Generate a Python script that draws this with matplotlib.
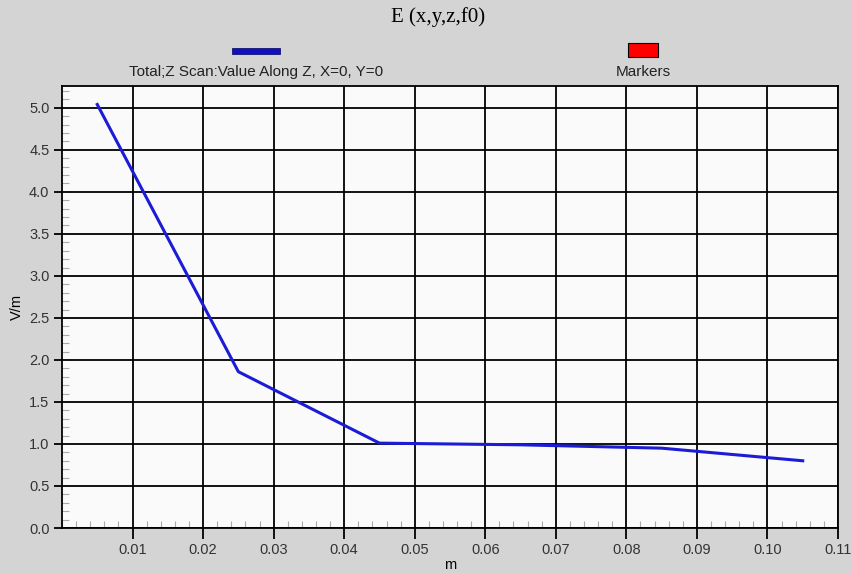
import matplotlib.pyplot as plt
import matplotlib.patches as mpatches
from matplotlib.ticker import MultipleLocator

plt.rcParams['font.family'] = ['Liberation Sans', 'DejaVu Sans']

# data
z = [0.005, 0.025, 0.045, 0.065, 0.085, 0.105]
e_total = [5.04, 1.86, 1.01, 0.99, 0.95, 0.80]
x_ticks = [0.01, 0.02, 0.03, 0.04, 0.05, 0.06, 0.07, 0.08, 0.09, 0.10, 0.11]
x_labels = ["0.01", "0.02", "0.03", "0.04", "0.05", "0.06", "0.07", "0.08", "0.09", "0.10", "0.11"]
y_ticks = [0.0, 0.5, 1.0, 1.5, 2.0, 2.5, 3.0, 3.5, 4.0, 4.5, 5.0]

fig = plt.figure(figsize=(8.53, 5.74), dpi=100, facecolor='#d4d4d4')
ax = fig.add_axes([62 / 853, 1 - 528 / 574, (838 - 62) / 853, (528 - 86) / 574])
ax.set_facecolor('#fafafa')

ax.plot(z, e_total, color='#1c1cd6', linewidth=2.2, zorder=3)

ax.set_xlim(0, 0.11)
ax.set_ylim(0, 5.26)
ax.set_xticks(x_ticks)
ax.set_xticklabels(x_labels)
ax.set_yticks(y_ticks)
ax.yaxis.set_major_formatter(plt.FormatStrFormatter('%.1f'))
ax.xaxis.set_minor_locator(MultipleLocator(0.002))
ax.yaxis.set_minor_locator(MultipleLocator(0.1))
ax.grid(True, which='major', color='black', linewidth=1.3)
ax.tick_params(which='major', direction='out', length=6, width=1.3,
               labelsize=10.5, labelcolor='#333333', pad=3)
ax.tick_params(axis='x', which='major', length=8, pad=3)
ax.tick_params(which='minor', direction='in', length=5, width=0.8, color='#aaaaaa')
for s in ax.spines.values():
    s.set_linewidth(1.3)
    s.set_color('black')

ax.set_ylabel('V/m', fontsize=10.5, labelpad=4)
fig.text(450 / 853, 1 - 565 / 574, 'm', fontsize=10.5, ha='center', va='center')

fig.text(438 / 853, 1 - 17 / 574, 'E (x,y,z,f0)', family='Liberation Serif',
         fontsize=15, ha='center', va='center')

# legend entries drawn as figure patches
fig.patches.append(mpatches.Rectangle((232 / 853, 1 - 54 / 574), 48 / 853, 6 / 574,
                                      transform=fig.transFigure, facecolor='#1010c0',
                                      edgecolor='#000060', linewidth=0.5))
fig.text(256 / 853, 1 - 72 / 574, 'Total;Z Scan:Value Along Z, X=0, Y=0',
         fontsize=11, ha='center', va='center', color='#222222')
fig.patches.append(mpatches.Rectangle((628 / 853, 1 - 57 / 574), 30 / 853, 14 / 574,
                                      transform=fig.transFigure, facecolor='#ff0000',
                                      edgecolor='black', linewidth=0.8))
fig.text(643 / 853, 1 - 72 / 574, 'Markers', fontsize=11, ha='center', va='center',
         color='#222222')

fig.savefig('out.png', dpi=100, facecolor=fig.get_facecolor())
